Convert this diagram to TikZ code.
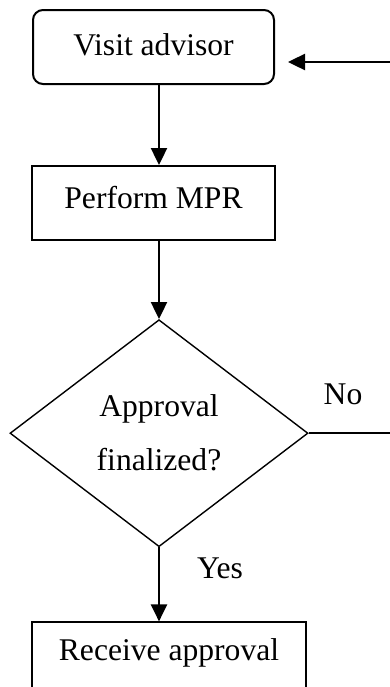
\documentclass[tikz,border=0pt]{standalone}
\usepackage{fontspec}
\setmainfont{Liberation Serif}
\usepackage{tikz}
\usetikzlibrary{positioning, arrows.meta, shapes.geometric}
\tikzset{
  proc/.style={draw, line width=1pt, align=center, minimum height=37pt,
               inner sep=0pt, font=\fontsize{15.8}{18.8}\selectfont},
  start/.style={proc, rounded corners=5pt},
  dec/.style={draw, diamond, aspect=1.31, line width=0.7pt, align=center,
              minimum width=149pt, minimum height=113.5pt, inner sep=0pt,
              font=\fontsize{15.8}{27}\selectfont},
  lbl/.style={font=\fontsize{15.8}{18.8}\selectfont, inner sep=0pt},
  ar/.style={-{Triangle[length=8.5pt, width=8pt]}, line width=1.2pt},
}
\begin{document}
\begin{tikzpicture}[x=0.5pt, y=-0.5pt]
  \clip (0,0) rectangle (390,687);
  \node[start, minimum width=120.5pt, text depth=2pt] (visit) at (153.5,47) {Visit advisor};
  \node[proc, minimum width=121.5pt, text depth=6pt, below=40pt of visit] (mpr) {Perform MPR};
  \node[dec, below=39pt of mpr, xshift=2.75pt] (chk) {Approval\\finalized?};
  \node[proc, minimum width=137pt, text depth=10pt, below=37pt of chk, xshift=5pt] (recv) {Receive approval};
  \coordinate (back) at (402,62);

  \node[lbl] (no) at (343,394) {No};
  \node[lbl] (yes) at (220,568) {Yes};

  \draw[ar] (visit.south -| chk.north) -- (mpr.north -| chk.north);
  \draw[ar] (mpr.south -| chk.north) -- (chk.north);
  \draw[ar] (chk.south) -- (recv.north -| chk.south);
  \draw[ar, shorten >=6.5pt] (chk.east) -| (back) -- (visit.east |- back);
\end{tikzpicture}
\end{document}
